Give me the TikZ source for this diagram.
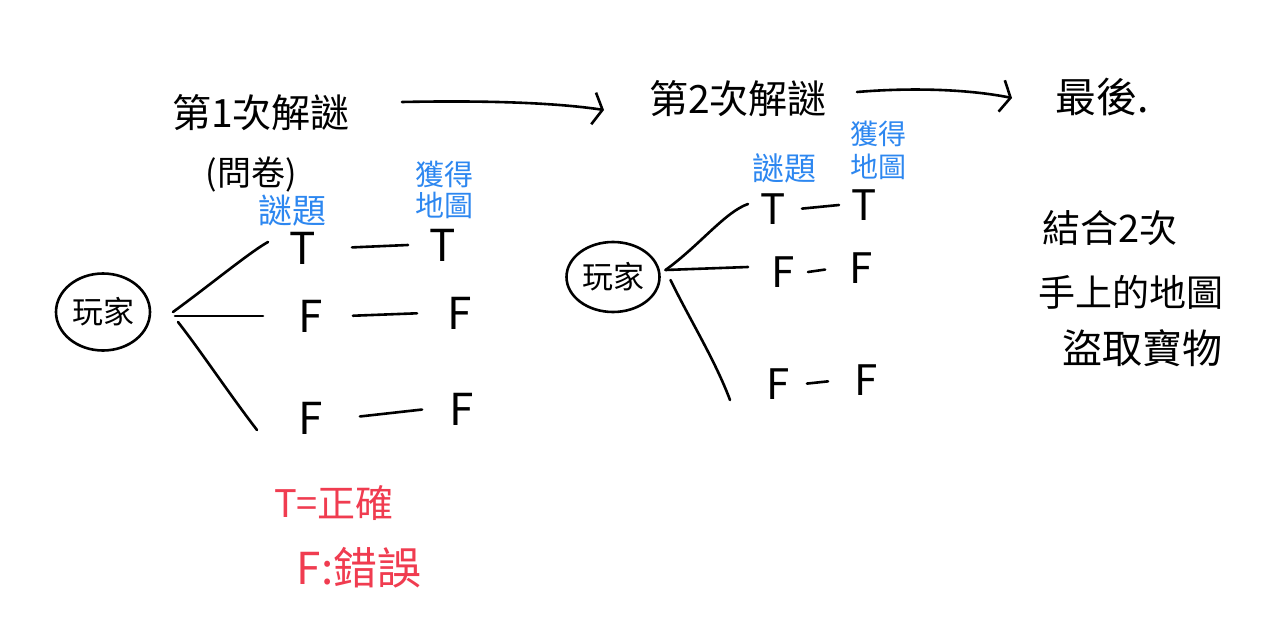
\documentclass[tikz,border=0pt]{standalone}
\usepackage{fontspec}
\setmainfont{Noto Sans CJK TC}
\usetikzlibrary{arrows.meta,shapes.geometric}
\definecolor{hblue}{RGB}{45,135,240}
\definecolor{hred}{RGB}{240,60,80}
\begin{document}
\begin{tikzpicture}[x=1pt,y=-1pt,
  ink/.style={draw=black,line width=2.6pt,line cap=round,line join=round},
  flow/.style={ink,-{Straight Barb[length=9pt,width=32pt]}},
  branch/.style={ink},
  player/.style={ellipse,draw=black,line width=2.6pt,inner sep=0pt,outer sep=0pt,
     font=\fontsize{31}{31}\selectfont},
  ans/.style={inner sep=0pt,outer sep=0pt,minimum width=70pt,font=\fontsize{44}{44}\selectfont},
  anstwo/.style={inner sep=0pt,outer sep=0pt,minimum width=50pt,font=\fontsize{42}{42}\selectfont},
  heading/.style={inner sep=0pt,font=\fontsize{39}{44}\selectfont},
  note/.style={inner sep=0pt,font=\fontsize{38}{44}\selectfont},
  bluelabel/.style={inner sep=0pt,text=hblue,align=center},
  legend/.style={inner sep=0pt,text=hred}]
\fill[white] (0,0) rectangle (1279,636);
\useasboundingbox (0,0) rectangle (1279,636);

% headings
\node[heading] (s1) at (261,113) {第1次解謎};
\node[heading] (s2) at (738,99) {第2次解謎};
\node[heading,font=\fontsize{41}{44}\selectfont] (s3) at (1102,97) {最後.};
\node[inner sep=0pt,font=\fontsize{34}{36}\selectfont] (q1) at (251,175) {(問卷)};

\draw[flow] ([xshift=141pt,yshift=11pt]s1.center) .. controls +(100,-2) and +(-40,-6) .. ([xshift=-134pt,yshift=-11pt]s2.center);
\draw[flow] ([xshift=119pt,yshift=7pt]s2.center) .. controls +(60,-5) and +(-40,-8) .. ([xshift=-90pt,yshift=-1pt]s3.center);

% blue labels
\node[bluelabel,font=\fontsize{34}{36}\selectfont] (b1) at (292,211) {謎題};
\node[bluelabel,font=\fontsize{29}{31}\selectfont] (b2) at (444,190) {獲得\\地圖};
\node[bluelabel,font=\fontsize{32}{34}\selectfont] (b3) at (784,168) {謎題};
\node[bluelabel,font=\fontsize{28}{33}\selectfont] (b4) at (878,150) {獲得\\地圖};

% first round
\node[player,minimum width=94pt,minimum height=77pt] (p1) at (103,312) {玩家};
\node[ans] (t11) at (303,248) {T};
\node[ans] (t12) at (443,245) {T};
\node[ans] (f11) at (311,316) {F};
\node[ans] (f12) at (460,313) {F};
\node[ans] (f13) at (311,418) {F};
\node[ans] (f14) at (462,409) {F};

\draw[branch] ([xshift=23pt]p1.east) .. controls (210,285) and (250,252) .. ([yshift=6pt]t11.west);
\draw[branch] ([xshift=25pt,yshift=-4pt]p1.east) -- ([xshift=-13pt]f11.west);
\draw[branch] ([xshift=28pt,yshift=-10pt]p1.east) .. controls (200,350) and (230,395) .. ([xshift=-19pt,yshift=-12pt]f13.west);

\draw[ink,shorten <=14pt] (t11.east) -- (t12.west);
\draw[ink,shorten <=7pt,shorten >=8pt] (f11.east) -- (f12.west);
\draw[ink,shorten <=14pt,shorten >=5pt] (f13.east) -- (f14.west);

% second round
\node[player,minimum width=93pt,minimum height=70pt] (p2) at (613,277) {玩家};
\node[anstwo] (t21) at (773,209) {T};
\node[anstwo] (t22) at (864,205) {T};
\node[anstwo] (f21) at (783,272) {F};
\node[anstwo] (f22) at (861,268) {F};
\node[anstwo] (f23) at (778,384) {F};
\node[anstwo] (f24) at (866,380) {F};

\draw[branch] ([xshift=6pt,yshift=7pt]p2.east) .. controls (700,245) and (725,212) .. ([yshift=5pt]t21.west);
\draw[branch] ([xshift=6pt,yshift=7pt]p2.east) -- ([xshift=-10pt,yshift=5pt]f21.west);
\draw[branch] ([xshift=11pt,yshift=-3pt]p2.east) .. controls (690,320) and (715,360) .. ([xshift=-23pt,yshift=-16pt]f23.west);

\draw[ink,shorten <=4pt] (t21.east) -- (t22.west);
\draw[ink,shorten >=11pt] (f21.east) -- (f22.west);
\draw[ink,shorten <=4pt,shorten >=13pt] (f23.east) -- (f24.west);

% final notes
\node[note] (r1) at (1110,228) {結合2次};
\node[note,font=\fontsize{37}{44}\selectfont] (r2) at (1131,292) {手上的地圖};
\node[note,font=\fontsize{40}{44}\selectfont] (r3) at (1142,348) {盜取寶物};

% legend
\node[legend,font=\fontsize{38}{40}\selectfont] (l1) at (334,503) {T=正確};
\node[legend,font=\fontsize{44}{46}\selectfont] (l2) at (359,568) {F:錯誤};
\end{tikzpicture}
\end{document}
